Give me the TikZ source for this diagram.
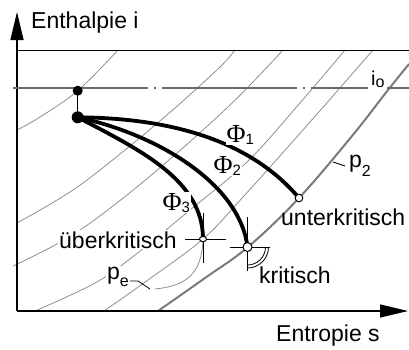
\documentclass[tikz,border=0pt]{standalone}
\usepackage{fontspec}
\setmainfont{Liberation Sans}
\newfontfamily\phifont{Liberation Serif}
\usetikzlibrary{arrows.meta}
\definecolor{isogray}{HTML}{8E8E8E}
\definecolor{pgray}{HTML}{7A7A7A}
\definecolor{dgray}{HTML}{6A6A6A}
\tikzset{
  axisline/.style={line width=1.3pt, -{Triangle[length=28pt,width=13pt]}},
  frameline/.style={line width=1pt},
  iso/.style={isogray, line width=0.8pt},
  isobartwo/.style={pgray, line width=2pt},
  dashdot/.style={dgray, line width=1.1pt, dash pattern=on 135pt off 6pt on 2pt off 6pt},
  expline/.style={line width=3.8pt},
  crossline/.style={line width=0.9pt},
  thinblack/.style={line width=0.8pt},
  lbl/.style={inner sep=0pt, font=\fontsize{23}{28}\selectfont},
  masklbl/.style={lbl, fill=white, inner sep=1pt},
  opencirc/.style={draw, fill=white, line width=1pt},
}
\newcommand{\PhiSub}[1]{{\phifont\fontsize{26}{31}\selectfont Φ}\raisebox{-2pt}{\fontsize{15}{17}\selectfont #1}}
\begin{document}
\begin{tikzpicture}[x=1pt,y=-1pt]
\useasboundingbox (0,0) rectangle (409,349);

% key points
\coordinate (top) at (77.7,90.7);
\coordinate (st) at (77.7,117.3);
\coordinate (uk) at (299,198);
\coordinate (kr) at (247.5,247);
\coordinate (ue) at (203,239);
\coordinate (origin) at (17,311);
\coordinate (ytip) at (17,12);
\coordinate (xtip) at (408,311);

% thin isobars
\draw[iso] plot[smooth, tension=0.6] coordinates {(17,130) (40,117) (78,90.5) (118,50)};
\draw[iso] plot[smooth, tension=0.6] coordinates {(17,223) (73,190) (125,150) (175,108) (220,67) (235,50)};
\draw[iso] plot[smooth, tension=0.6] coordinates {(13,266) (55,245) (93,221) (155,172) (230,105) (283,50)};
\draw[iso] plot[smooth, tension=0.6] coordinates {(35,311) (95,283) (135,255) (190,210) (247,162) (300,103) (345,50)};
\draw[iso] plot[smooth, tension=0.6] coordinates {(104,311) (148,280) (203,239) (243,197) (310,122) (373,50)};
% p_e curve
\coordinate (peend) at (155,289);
\draw[iso] (ue) .. controls (202,275) and (185,286) .. (peend);
% p2 isobar
\draw[isobartwo] plot[smooth, tension=0.6] coordinates {(158,311) (205,278) (248,247) (299,198) (352,136) (388,90) (409,64)};

% frame and axes
\draw[frameline] (17,50) -- (409,50);
\draw[axisline] (origin) -- (ytip);
\draw[axisline] (origin) -- (xtip);

% i0 line
\draw[dashdot] (13,88) -- (368,88);
\draw[dgray, line width=1.1pt] (387,88) -- (409,88);

% expansion lines
\draw[thinblack] (top) -- (st);
\draw[expline] (st) .. controls (170,118) and (250,140) .. (uk);
\draw[expline] (st) .. controls (160,135) and (240,185) .. (kr);
\draw[expline] (st) .. controls (140,150) and (203,180) .. (ue);

% crosshairs
\draw[crossline] ([xshift=-18pt]ue) -- ([xshift=23pt]ue);
\draw[crossline] ([yshift=26pt]ue) -- ([yshift=-24pt]ue);
\draw[crossline] ([xshift=-17.5pt]kr) -- ([xshift=22pt]kr);
\draw[crossline] ([yshift=30pt]kr) -- ([yshift=-24pt]kr);
% right-angle double arc
\draw[thinblack] ([shift={(21,0)}]kr) .. controls ([shift={(21,11.6)}]kr) and ([shift={(11.6,21)}]kr) .. ([shift={(0,21)}]kr);
\draw[thinblack] ([shift={(18,0)}]kr) .. controls ([shift={(18,9.9)}]kr) and ([shift={(9.9,18)}]kr) .. ([shift={(0,18)}]kr);

% points
\fill (top) circle (5pt);
\fill (st) circle (6pt);
\draw[opencirc] (uk) circle (3.8pt);
\draw[opencirc] (kr) circle (4.5pt);
\draw[opencirc] (ue) ellipse (3.6pt and 2.6pt);

% leaders
\coordinate (ptwoa) at (333,162);
\coordinate (ptwob) at (345,166);
\draw[thinblack] (ptwoa) -- (ptwob);
\coordinate (pea) at (126,281);
\coordinate (peb) at (138,281);
\coordinate (pec) at (150,289);
\draw[thinblack] (pea) -- (peb) -- (pec);

% labels
\node[lbl, anchor=base west] (lh) at (31,28) {Enthalpie i};
\node[lbl, anchor=base west] (ls) at (276,341) {Entropie s};
\node[lbl, anchor=base west, font=\fontsize{20}{24}\selectfont] (lio) at (371,85) {i\raisebox{-2pt}{\fontsize{16}{18}\selectfont o}};
\node[masklbl, anchor=base east] (lue) at (178,248) {überkritisch};
\node[lbl, anchor=base west] (luk) at (281,225) {unterkritisch};
\node[lbl, anchor=base west] (lkr) at (259,283) {kritisch};
\node[masklbl, anchor=base west] (lpe) at (106,279) {p\raisebox{-7pt}{\fontsize{16}{18}\selectfont e}};
\node[lbl, anchor=base west] (lp2) at (349,167) {p\raisebox{-9pt}{\fontsize{16}{18}\selectfont 2}};
\node[masklbl, anchor=base west, inner sep=0.5pt] (lf1) at (226,142) {\PhiSub{1}};
\node[masklbl, anchor=base west, inner sep=0.5pt] (lf2) at (213,173) {\PhiSub{2}};
\node[masklbl, anchor=base west, inner sep=0.5pt] (lf3) at (162,210) {\PhiSub{3}};
\end{tikzpicture}
\end{document}
